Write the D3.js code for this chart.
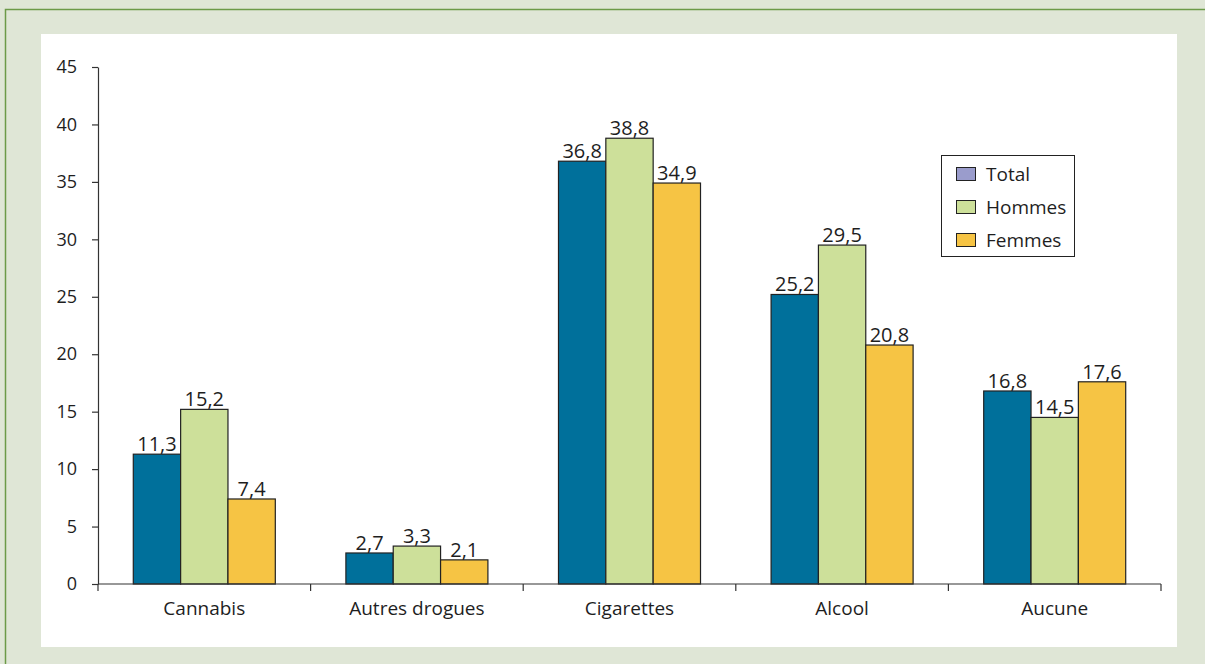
<!DOCTYPE html>
<html>
<head>
<meta charset="utf-8">
<script src="https://cdn.jsdelivr.net/npm/d3@7"></script>
<style>
  html, body { margin: 0; padding: 0; background: #dfe6d6; }
  svg { display: block; }
  text { font-family: "Open Sans", "Noto Sans", sans-serif; fill: #1e1e1e; }
</style>
</head>
<body>
<script>
// Consumption categories and percentages by group
const categories = ["Cannabis", "Autres drogues", "Cigarettes", "Alcool", "Aucune"];
const seriesNames = ["Total", "Hommes", "Femmes"];
const totalValues = [11.3, 2.7, 36.8, 25.2, 16.8];
const hommesValues = [15.2, 3.3, 38.8, 29.5, 14.5];
const femmesValues = [7.4, 2.1, 34.9, 20.8, 17.6];
const yTicks = [0, 5, 10, 15, 20, 25, 30, 35, 40, 45];

const barColors = ["#00709b", "#cde09a", "#f6c444"];
const legendColors = ["#9a9ccc", "#cde09a", "#f6c444"];

const W = 1205, H = 664;
const svg = d3.select("body").append("svg").attr("width", W).attr("height", H);

// Outer frame
svg.append("rect").attr("x", 0).attr("y", 0).attr("width", W).attr("height", H).attr("fill", "#dfe6d6");
svg.append("path").attr("d", `M5.5,${H} V9.5 H${W}`).attr("fill", "none").attr("stroke", "#6c9a48").attr("stroke-width", 1.5);
svg.append("rect").attr("x", 41).attr("y", 34).attr("width", 1136).attr("height", 613).attr("fill", "#fff");

const plotLeft = 98, plotRight = 1161, plotTop = 67, plotBottom = 584;

const x0 = d3.scaleBand().domain(categories).range([plotLeft, plotRight]).padding(0);
const groupW = x0.bandwidth() * 0.668;
const x1 = d3.scaleBand().domain(seriesNames).range([0, groupW]).padding(0);
const y = d3.scaleLinear().domain([0, 45]).range([plotBottom, plotTop]);

const data = categories.map((c, i) => ({
  cat: c,
  vals: [totalValues[i], hommesValues[i], femmesValues[i]]
}));

const fmt = v => v.toFixed(1).replace(".", ",");

const groups = svg.append("g").selectAll("g").data(data).join("g")
  .attr("transform", d => `translate(${x0(d.cat) + (x0.bandwidth() - groupW) / 2},0)`);

groups.selectAll("rect").data(d => d.vals.map((v, j) => ({v, s: seriesNames[j], j})))
  .join("rect")
  .attr("x", d => x1(d.s))
  .attr("y", d => y(d.v))
  .attr("width", x1.bandwidth())
  .attr("height", d => y(0) - y(d.v))
  .attr("fill", d => barColors[d.j])
  .attr("stroke", "#222")
  .attr("stroke-width", 1.2);

groups.selectAll("text.val").data(d => d.vals.map((v, j) => ({v, s: seriesNames[j], j})))
  .join("text")
  .attr("class", "val")
  .attr("x", d => x1(d.s) + x1.bandwidth() / 2)
  .attr("y", d => y(d.v) - 3)
  .attr("text-anchor", "middle")
  .style("font-size", "20px")
  .text(d => fmt(d.v));

// Y axis
const yAxis = d3.axisLeft(y).tickValues(yTicks).tickSize(6).tickPadding(15).tickSizeOuter(0);
const gy = svg.append("g").attr("transform", `translate(${plotLeft},0)`).call(yAxis);
gy.selectAll("text").style("font-size", "18px").style("font-family", '"Open Sans", sans-serif').attr("fill", "#1e1e1e");
gy.selectAll("line, path").attr("stroke", "#333").attr("stroke-width", 1.2);

// X axis with ticks between categories
const gx = svg.append("g").attr("transform", `translate(0,${plotBottom})`);
gx.append("line").attr("x1", plotLeft).attr("x2", plotRight).attr("y1", 0).attr("y2", 0).attr("stroke", "#333").attr("stroke-width", 1.2);
const boundaries = categories.map(c => x0(c)).concat([plotRight]);
gx.selectAll("line.tick").data(boundaries).join("line")
  .attr("class", "tick")
  .attr("x1", d => d).attr("x2", d => d).attr("y1", 0).attr("y2", 7)
  .attr("stroke", "#333").attr("stroke-width", 1.2);
gx.selectAll("text").data(categories).join("text")
  .attr("x", d => x0(d) + x0.bandwidth() / 2)
  .attr("y", 31)
  .attr("text-anchor", "middle")
  .style("font-size", "19px")
  .text(d => d);

// Legend
const lg = svg.append("g").attr("transform", "translate(941,155)");
lg.append("rect").attr("x", 0.5).attr("y", 0.5).attr("width", 133).attr("height", 101)
  .attr("fill", "#fff").attr("stroke", "#222").attr("stroke-width", 1);
seriesNames.forEach((s, j) => {
  const yy = 12 + j * 33;
  lg.append("rect").attr("x", 15.5).attr("y", yy + 0.5).attr("width", 19).attr("height", 13)
    .attr("fill", legendColors[j]).attr("stroke", "#222").attr("stroke-width", 1);
  lg.append("text").attr("x", 45).attr("y", yy + 14).style("font-size", "19px").text(s);
});
</script>
</body>
</html>
